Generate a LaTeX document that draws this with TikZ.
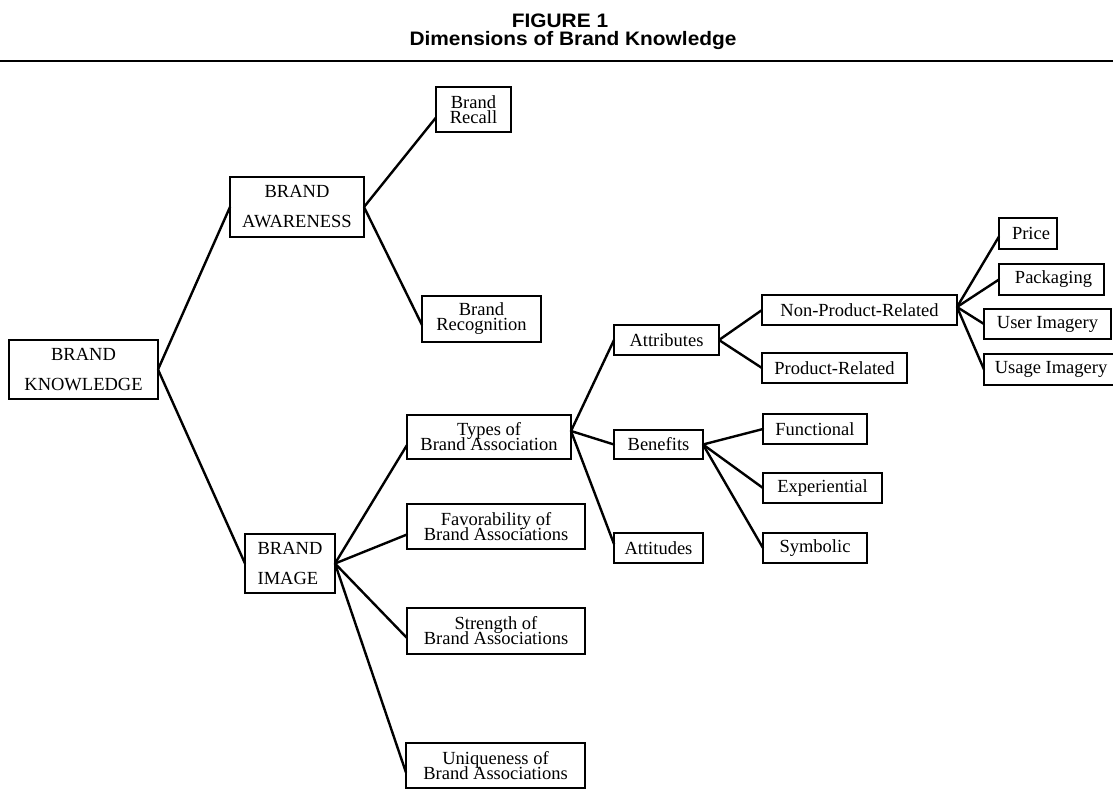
\documentclass[tikz,border=0pt]{standalone}
\usepackage{fontspec}
\setmainfont{Liberation Serif}
\newfontfamily\headfont{Liberation Sans}[FakeStretch=1.07]
\begin{document}
\begin{tikzpicture}[x=1pt,y=-1pt,
  box/.style={draw, line width=1.7pt, rectangle, inner sep=0pt, outer sep=0pt,
    font=\fontsize{18.5}{15}\selectfont},
  capsbox/.style={box, font=\fontsize{18.5}{30}\selectfont},
  conn/.style={line width=2.4pt, line cap=round},
  head/.style={anchor=base, inner sep=0pt, font=\headfont\bfseries\fontsize{19.5}{22}\selectfont}]
% let the tight two-line labels keep their leading
\lineskiplimit=-30pt
\useasboundingbox (0,0) rectangle (1113,807);

% box from its corners: name, x1, y1, x2, y2, style, text
\newcommand\boxat[7]{%
  \pgfmathsetmacro\bw{#4-#2}\pgfmathsetmacro\bh{#5-#3}%
  \node[#6, align=center, minimum width=\bw pt, minimum height=\bh pt]
    (#1) at ({(#2+#4)/2},{(#3+#5)/2}) {#7};}

% heading and rule
\node[head] (fig) at (560,27.3) {FIGURE 1};
\node[head] (dim) at (573,45.8) {Dimensions of Brand Knowledge};
\draw[line width=2.4pt] (0,61) -- (1113,61);

% level 1-2
\boxat{bk}{9}{340}{158}{399}{capsbox}{BRAND\\KNOWLEDGE}
\boxat{ba}{230}{177}{364}{237}{capsbox}{BRAND\\AWARENESS}
\node[capsbox, align=left, minimum width=90pt, minimum height=59pt] (bi) at (290,563.5) {BRAND\\IMAGE};

% awareness branch
\boxat{recall}{436}{87}{511}{132}{box}{Brand\\Recall}
\boxat{recog}{422}{296}{541}{342}{box}{Brand\\Recognition}

% image branch
\boxat{types}{407}{415}{571}{459}{box}{Types of\\Brand Association}
\boxat{fav}{407}{504}{585}{549}{box}{Favorability of\\Brand Associations}
\boxat{strg}{407}{608}{585}{654}{box}{Strength of\\Brand Associations}
\boxat{uniq}{406}{743}{585}{788}{box}{Uniqueness of\\Brand Associations}

% types of association
\boxat{attr}{614}{325}{719}{355}{box}{Attributes}
\boxat{ben}{614}{430}{703}{459}{box}{Benefits}
\boxat{atti}{614}{533}{703}{563}{box}{Attitudes}

% attributes
\boxat{npr}{762}{295}{957}{325}{box}{Non-Product-Related}
\boxat{pr}{762}{353}{907}{383}{box}{Product-Related}

% benefits
\boxat{func}{763}{414}{867}{444}{box}{Functional}
\boxat{expe}{763}{473}{882}{503}{box}{Experiential}
\boxat{symb}{763}{533}{867}{563}{box}{Symbolic}

% non-product-related attributes
\boxat{price}{999}{218}{1057}{249}{box}{\hspace{6pt}Price}
\boxat{pack}{999}{264}{1104}{295}{box}{\hspace{4pt}Packaging}
\boxat{user}{984}{309}{1111}{339}{box}{User Imagery}
\boxat{usage}{984}{354}{1118}{385}{box}{Usage Imagery}

% connectors
\draw[conn] (bk.east) -- (ba.west);
\draw[conn] (bk.east) -- (bi.west);
\draw[conn] (ba.east) -- ([yshift=-8pt]recall.west);
\draw[conn] (ba.east) -- ([yshift=-6pt]recog.west);
\draw[conn] (bi.east) -- ([yshift=-8pt]types.west);
\draw[conn] (bi.east) -- ([yshift=-8pt]fav.west);
\draw[conn] (bi.east) -- ([yshift=-7pt]strg.west);
\draw[conn] (bi.east) -- ([yshift=-7pt]uniq.west);
\draw[conn] ([yshift=6pt]types.east) -- (attr.west);
\draw[conn] ([yshift=6pt]types.east) -- (ben.west);
\draw[conn] ([yshift=6pt]types.east) -- ([yshift=4pt]atti.west);
\draw[conn] (attr.east) -- (npr.west);
\draw[conn] (attr.east) -- (pr.west);
\draw[conn] (ben.east) -- (func.west);
\draw[conn] (ben.east) -- (expe.west);
\draw[conn] (ben.east) -- (symb.west);
\draw[conn] ([yshift=3pt]npr.east) -- ([yshift=-3pt]price.west);
\draw[conn] ([yshift=3pt]npr.east) -- (pack.west);
\draw[conn] ([yshift=3pt]npr.east) -- (user.west);
\draw[conn] ([yshift=3pt]npr.east) -- (usage.west);
\end{tikzpicture}
\end{document}
